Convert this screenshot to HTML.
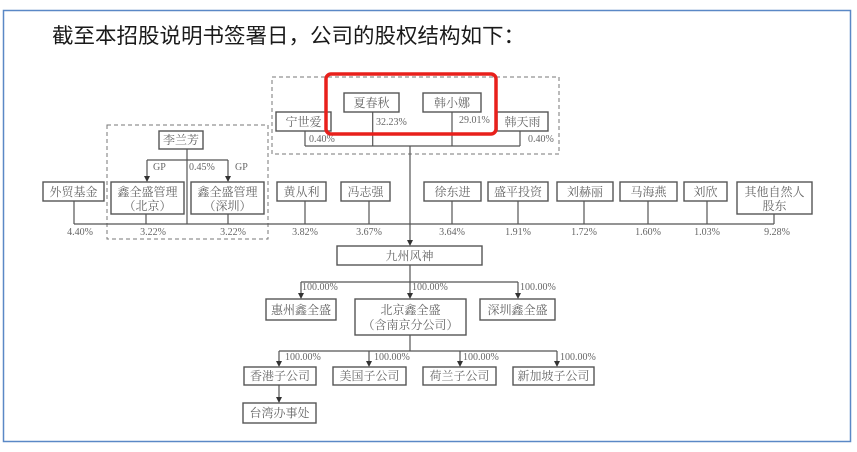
<!DOCTYPE html>
<html><head><meta charset="utf-8"><style>
html,body{margin:0;padding:0;background:#fff;}
svg{display:block;}
.b{fill:#fff;stroke:#555;stroke-width:1.4;}
.l{stroke:#555;stroke-width:1.2;fill:none;}
.d{fill:none;stroke:#777;stroke-width:1;stroke-dasharray:4,3;}
.t{font-family:"Liberation Serif","Noto Serif CJK SC",serif;font-size:12px;fill:#666;text-anchor:middle;}
.p{font-family:"Liberation Serif",serif;font-size:10px;fill:#666;}
.pc{font-family:"Liberation Serif",serif;font-size:10px;fill:#666;text-anchor:middle;}
</style></head><body>
<svg width="857" height="452" viewBox="0 0 857 452" xmlns="http://www.w3.org/2000/svg">
<rect x="0" y="0" width="857" height="452" fill="#fff"/>
<rect x="3.5" y="10.5" width="847" height="431" fill="none" stroke="#5a88c6" stroke-width="1.5"/>
<text x="52" y="43" font-family="'Liberation Sans','Noto Sans CJK SC',sans-serif" font-size="21" fill="#1a1a1a" textLength="473" lengthAdjust="spacingAndGlyphs">截至本招股说明书签署日，公司的股权结构如下：</text>

<!-- dashed groups -->
<rect class="d" x="272" y="77" width="287" height="77"/>
<rect class="d" x="107" y="125" width="161" height="114"/>

<!-- top group lines -->
<path class="l" d="M305 131V146M372.7 112V146M452 112V146M520 131V146M305 146H520M410 146V241"/>
<polygon points="407,240 413,240 410,246" fill="#333"/>

<!-- Li Lanfang lines -->
<path class="l" d="M187 149V224M147 160H228M147 160V177M228 160V177"/>
<polygon points="144,176 150,176 147,182" fill="#333"/>
<polygon points="225,176 231,176 228,182" fill="#333"/>

<!-- row lines -->
<path class="l" d="M74 224H774M74 201V224M146 214V224M228 214V224M305 201V224M369 201V224M452 201V224M518 201V224M584 201V224M648 201V224M707 201V224M774 214V224"/>

<!-- jiuzhou down -->
<path class="l" d="M410 265V282M301 282H518M301 282V294M410 282V294M518 282V294"/>
<polygon points="298,293 304,293 301,299" fill="#333"/>
<polygon points="407,293 413,293 410,299" fill="#333"/>
<polygon points="515,293 521,293 518,299" fill="#333"/>

<!-- beijing down -->
<path class="l" d="M410 335V351M279 351H557M279 351V362M369 351V362M460 351V362M557 351V362M279 385V398"/>
<polygon points="276,361 282,361 279,367" fill="#333"/>
<polygon points="366,361 372,361 369,367" fill="#333"/>
<polygon points="457,361 463,361 460,367" fill="#333"/>
<polygon points="554,361 560,361 557,367" fill="#333"/>
<polygon points="276,397 282,397 279,403" fill="#333"/>

<!-- top boxes -->
<rect class="b" x="344" y="93" width="55" height="19"/><text class="t" x="371.5" y="107">夏春秋</text>
<rect class="b" x="423" y="93" width="58" height="19"/><text class="t" x="452" y="107">韩小娜</text>
<rect class="b" x="276" y="112" width="55" height="19"/><text class="t" x="303.5" y="126">宁世爱</text>
<rect class="b" x="497" y="112" width="51" height="19"/><text class="t" x="522.5" y="126">韩天雨</text>
<text class="p" x="376" y="125">32.23%</text>
<text class="p" x="459" y="123">29.01%</text>
<text class="p" x="309" y="142">0.40%</text>
<text class="p" x="528" y="142">0.40%</text>

<!-- red highlight -->
<rect x="326" y="74" width="170" height="60" rx="5" fill="none" stroke="#e8201c" stroke-width="3.5"/>

<!-- Li Lanfang -->
<rect class="b" x="159" y="131" width="44" height="18"/><text class="t" x="181" y="144">李兰芳</text>
<text class="p" x="153" y="170">GP</text>
<text class="p" x="189" y="170">0.45%</text>
<text class="p" x="235" y="170">GP</text>

<!-- row boxes -->
<rect class="b" x="43" y="182" width="61" height="19"/><text class="t" x="73.5" y="196">外贸基金</text>
<rect class="b" x="111" y="182" width="73" height="32"/><text class="t" x="147.5" y="196">鑫全盛管理</text><text class="t" x="147.5" y="210">（北京）</text>
<rect class="b" x="191" y="182" width="73" height="32"/><text class="t" x="227.5" y="196">鑫全盛管理</text><text class="t" x="227.5" y="210">（深圳）</text>
<rect class="b" x="277" y="182" width="49" height="19"/><text class="t" x="301.5" y="196">黄从利</text>
<rect class="b" x="341" y="182" width="49" height="19"/><text class="t" x="365.5" y="196">冯志强</text>
<rect class="b" x="424" y="182" width="57" height="19"/><text class="t" x="452.5" y="196">徐东进</text>
<rect class="b" x="488" y="182" width="60" height="19"/><text class="t" x="518" y="196">盛平投资</text>
<rect class="b" x="557" y="182" width="56" height="19"/><text class="t" x="585" y="196">刘赫丽</text>
<rect class="b" x="620" y="182" width="57" height="19"/><text class="t" x="648.5" y="196">马海燕</text>
<rect class="b" x="684" y="182" width="43" height="19"/><text class="t" x="705.5" y="196">刘欣</text>
<rect class="b" x="737" y="182" width="75" height="32"/><text class="t" x="774.5" y="196">其他自然人</text><text class="t" x="774.5" y="210">股东</text>

<!-- row percentages -->
<text class="pc" x="80" y="235">4.40%</text>
<text class="pc" x="153" y="235">3.22%</text>
<text class="pc" x="233" y="235">3.22%</text>
<text class="pc" x="305" y="235">3.82%</text>
<text class="pc" x="369" y="235">3.67%</text>
<text class="pc" x="452" y="235">3.64%</text>
<text class="pc" x="518" y="235">1.91%</text>
<text class="pc" x="584" y="235">1.72%</text>
<text class="pc" x="648" y="235">1.60%</text>
<text class="pc" x="707" y="235">1.03%</text>
<text class="pc" x="777" y="235">9.28%</text>

<!-- Jiuzhou -->
<rect class="b" x="337" y="246" width="145" height="19"/><text class="t" x="409.5" y="260">九州风神</text>
<text class="p" x="302" y="290" font-size="9.5">100.00%</text>
<text class="p" x="412" y="290" font-size="9.5">100.00%</text>
<text class="p" x="520" y="290" font-size="9.5">100.00%</text>

<rect class="b" x="266" y="299" width="70" height="21"/><text class="t" x="301" y="314">惠州鑫全盛</text>
<rect class="b" x="355" y="299" width="111" height="36"/><text class="t" x="410.5" y="314">北京鑫全盛</text><text class="t" x="410.5" y="329">（含南京分公司）</text>
<rect class="b" x="480" y="299" width="75" height="21"/><text class="t" x="517.5" y="314">深圳鑫全盛</text>

<text class="p" x="285" y="360" font-size="9.5">100.00%</text>
<text class="p" x="374" y="360" font-size="9.5">100.00%</text>
<text class="p" x="463" y="360" font-size="9.5">100.00%</text>
<text class="p" x="560" y="360" font-size="9.5">100.00%</text>

<rect class="b" x="244" y="367" width="72" height="18"/><text class="t" x="280" y="380">香港子公司</text>
<rect class="b" x="333" y="367" width="73" height="18"/><text class="t" x="369.5" y="380">美国子公司</text>
<rect class="b" x="423" y="367" width="73" height="18"/><text class="t" x="459.5" y="380">荷兰子公司</text>
<rect class="b" x="513" y="367" width="81" height="18"/><text class="t" x="553.5" y="380">新加坡子公司</text>
<rect class="b" x="243" y="403" width="73" height="20"/><text class="t" x="279.5" y="417">台湾办事处</text>
</svg>
</body></html>
